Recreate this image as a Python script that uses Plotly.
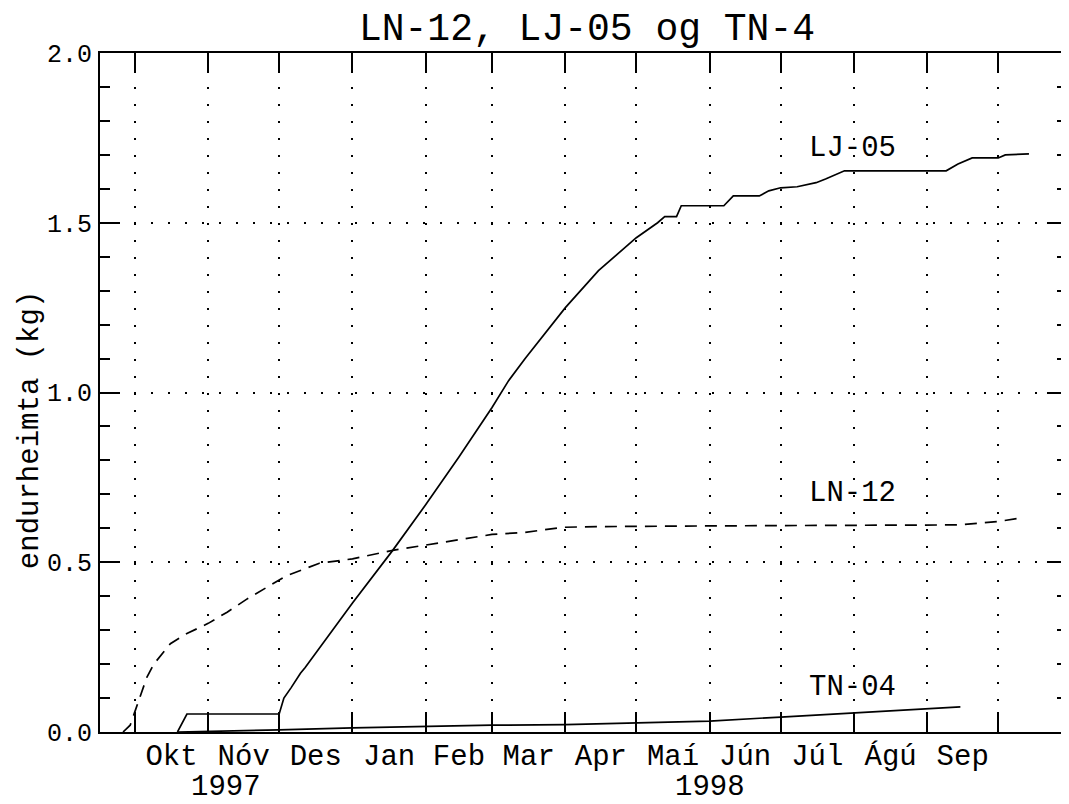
import plotly.graph_objects as go
import pandas as pd

title_text = "LN-12, LJ-05 og TN-4"
y_title = "endurheimta (kg)"
month_labels = ["Okt", "Nóv", "Des", "Jan", "Feb", "Mar", "Apr", "Maí", "Jún", "Júl", "Ágú", "Sep"]
year_labels = ["1997", "1998"]
series_names = ["LN-12", "LJ-05", "TN-04"]

ln12_dates = ["1997-09-26", "1997-09-29", "1997-10-01", "1997-10-03", "1997-10-06", "1997-10-09",
              "1997-10-16", "1997-10-23", "1997-11-01", "1997-11-09", "1997-11-17", "1997-11-26",
              "1997-12-04", "1997-12-18", "1998-01-01", "1998-01-18", "1998-02-01", "1998-02-15",
              "1998-03-01", "1998-03-15", "1998-03-31", "1998-04-15", "1998-05-01", "1998-06-01",
              "1998-07-01", "1998-08-01", "1998-09-14", "1998-10-01", "1998-10-12"]
ln12_vals = [0.0, 0.02, 0.06, 0.10, 0.16, 0.20,
             0.26, 0.29, 0.32, 0.353, 0.39, 0.427,
             0.46, 0.497, 0.51, 0.535, 0.55, 0.567,
             0.582, 0.588, 0.603, 0.605, 0.605, 0.607,
             0.608, 0.608, 0.61, 0.62, 0.632]

lj05_dates = ["1997-10-19", "1997-10-23", "1997-12-01", "1997-12-03", "1997-12-06", "1997-12-10",
              "1997-12-12", "1998-01-01", "1998-01-18", "1998-02-01", "1998-02-15", "1998-03-01",
              "1998-03-08", "1998-03-15", "1998-04-01", "1998-04-15", "1998-05-01", "1998-05-10",
              "1998-05-13", "1998-05-18", "1998-05-20", "1998-06-07", "1998-06-11", "1998-06-22",
              "1998-06-26", "1998-07-01", "1998-07-08", "1998-07-16", "1998-07-20", "1998-07-28",
              "1998-09-09", "1998-09-14", "1998-09-20", "1998-10-01", "1998-10-04", "1998-10-14"]
lj05_vals = [0.0, 0.053, 0.053, 0.10, 0.13, 0.173,
             0.19, 0.38, 0.535, 0.67, 0.81, 0.956,
             1.035, 1.10, 1.25, 1.359, 1.456, 1.50,
             1.518, 1.518, 1.55, 1.55, 1.579, 1.579,
             1.594, 1.603, 1.606, 1.618, 1.629, 1.653,
             1.653, 1.673, 1.691, 1.691, 1.70, 1.703]

tn04_dates = ["1997-10-19", "1997-11-15", "1997-12-01", "1998-01-01", "1998-02-01", "1998-03-01",
              "1998-04-01", "1998-05-01", "1998-06-01", "1998-07-01", "1998-08-01", "1998-08-20",
              "1998-09-15"]
tn04_vals = [0.0, 0.003, 0.006, 0.012, 0.017, 0.02,
             0.022, 0.026, 0.032, 0.044, 0.056, 0.065,
             0.074]

x_start = pd.Timestamp("1997-09-16 06:00")
x_end = pd.Timestamp("1998-10-30 02:00")

month_starts = pd.date_range("1997-10-01", "1998-10-01", freq="MS")
month_mids = month_starts[:-1] + (month_starts[1:] - month_starts[:-1]) / 2
year_bounds = [x_start, pd.Timestamp("1998-01-01"), x_end]
year_mids = [year_bounds[i] + (year_bounds[i + 1] - year_bounds[i]) / 2 for i in range(2)]

mono = "Liberation Mono"
line_style = dict(color="black", width=1.7)

# page body has an 8px margin; figure size is reduced accordingly
W, H = 1061, 796
OFF = 8
plot_left, plot_top, plot_bottom = 100 - OFF, 53 - OFF, 732 - OFF
plot_w = W - plot_left
plot_h = plot_bottom - plot_top

fig = go.Figure()
fig.add_trace(go.Scatter(x=ln12_dates, y=ln12_vals, mode="lines", name=series_names[0],
                         line=dict(color="black", width=1.7, dash="12px,8px")))
fig.add_trace(go.Scatter(x=lj05_dates, y=lj05_vals, mode="lines", name=series_names[1], line=line_style))
fig.add_trace(go.Scatter(x=tn04_dates, y=tn04_vals, mode="lines", name=series_names[2], line=line_style))

grid_dash = "2px,15px"

fig.update_layout(
    width=W, height=H,
    margin=dict(l=plot_left, r=0, t=plot_top, b=H - plot_bottom, pad=0),
    paper_bgcolor="white", plot_bgcolor="white",
    showlegend=False,
    title=dict(text=title_text, x=(587 - OFF) / W, xref="container", xanchor="center",
               y=1 - (27 - OFF) / H, yref="container", yanchor="middle",
               font=dict(family=mono, size=38, color="black")),
    xaxis=dict(
        type="date", range=[x_start, x_end],
        tickmode="array", tickvals=list(month_mids), ticktext=month_labels,
        ticks="", showgrid=False, zeroline=False,
        showline=True, linecolor="black", linewidth=2, mirror="ticks",
        tickfont=dict(family=mono, size=29, color="black"),
        ticklabelstandoff=-4,
        minor=dict(tickmode="array", tickvals=list(month_starts), ticks="inside", ticklen=20,
                   tickwidth=1.5, tickcolor="black", showgrid=True, gridcolor="black",
                   gridwidth=2, griddash=grid_dash),
    ),
    yaxis=dict(
        range=[0, 2], tickmode="linear", tick0=0, dtick=0.5, tickformat=".1f",
        ticks="inside", ticklen=20, tickwidth=1.5, tickcolor="black",
        showline=True, linecolor="black", linewidth=2, mirror="ticks",
        showgrid=True, gridcolor="black", gridwidth=2, griddash=grid_dash, zeroline=False,
        tickfont=dict(family=mono, size=25, color="black"),
        ticklabelstandoff=1,
        minor=dict(dtick=0.1, ticks="inside", ticklen=10, tickwidth=1.5, tickcolor="black", showgrid=False),
    ),
)

# y-axis title
fig.add_annotation(text=y_title, textangle=-90, xref="paper", yref="paper",
                   x=(30 - 100) / plot_w, y=(732 - 430) / plot_h, xanchor="center", yanchor="middle",
                   showarrow=False, font=dict(family=mono, size=29, color="black"))

# year labels under the month labels
for yl, ym in zip(year_labels, year_mids):
    fig.add_annotation(text=yl, x=ym, xref="x", yref="paper", y=-(787 - 732) / plot_h,
                       xanchor="center", yanchor="middle", showarrow=False,
                       font=dict(family=mono, size=29, color="black"))

# series labels
label_x = "1998-07-12"
label_y = [0.703, 1.72, 0.13]
for name, ly in zip(series_names, label_y):
    fig.add_annotation(text=name, x=label_x, y=ly, xref="x", yref="y", xanchor="left",
                       yanchor="middle", showarrow=False,
                       font=dict(family=mono, size=29, color="black"))

fig.write_html("out.html")
